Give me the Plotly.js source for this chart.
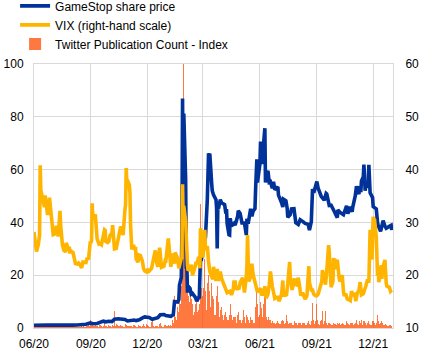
<!DOCTYPE html>
<html>
<head>
<meta charset="utf-8">
<script src="https://cdn.plot.ly/plotly-3.0.1.min.js"></script>
<style>html,body{margin:0;padding:0;background:#fff;}#chart{width:431px;height:356px;}</style>
</head>
<body>
<div id="chart"></div>
<script>
// ---- Series names ----
const seriesNames = ["GameStop share price", "VIX (right-hand scale)", "Twitter Publication Count - Index"];

// ---- GameStop share price (left scale), [date, value] ----
const gmeData = [
["2020-06-01",1.05],["2020-06-08",1.15],["2020-06-15",1.2],["2020-06-22",1.15],["2020-06-29",1.1],
["2020-07-06",1.05],["2020-07-13",1.0],["2020-07-20",1.05],["2020-07-27",1.05],["2020-08-03",1.1],
["2020-08-10",1.15],["2020-08-17",1.3],["2020-08-24",1.4],["2020-08-31",1.9],["2020-09-04",1.6],
["2020-09-11",1.7],["2020-09-16",2.3],["2020-09-21",2.6],["2020-09-25",2.35],["2020-09-30",2.55],
["2020-10-05",2.4],["2020-10-08",3.4],["2020-10-09",3.3],["2020-10-15",3.5],["2020-10-21",3.4],
["2020-10-26",3.2],["2020-10-30",2.65],["2020-11-04",2.9],["2020-11-10",3.0],["2020-11-13",2.8],
["2020-11-18",3.1],["2020-11-24",3.9],["2020-11-27",4.2],["2020-12-01",4.1],["2020-12-04",4.0],
["2020-12-09",3.3],["2020-12-14",3.6],["2020-12-18",3.9],["2020-12-22",5.0],["2020-12-28",5.1],
["2020-12-31",4.7],["2021-01-05",4.4],["2021-01-08",4.4],["2021-01-12",5.0],["2021-01-13",7.85],
["2021-01-14",10.0],["2021-01-19",9.85],["2021-01-21",10.8],["2021-01-22",16.3],["2021-01-25",19.2],
["2021-01-26",37.0],["2021-01-27",86.9],["2021-01-28",48.4],["2021-01-29",81.25],["2021-02-01",56.3],
["2021-02-02",22.5],["2021-02-03",23.1],["2021-02-04",13.4],["2021-02-05",15.9],["2021-02-08",15.0],
["2021-02-10",12.8],["2021-02-12",13.1],["2021-02-17",11.5],["2021-02-19",10.15],["2021-02-22",11.5],
["2021-02-23",11.2],["2021-02-24",22.9],["2021-02-25",27.2],["2021-02-26",25.4],["2021-03-01",30.1],
["2021-03-03",31.0],["2021-03-05",34.4],["2021-03-08",48.6],["2021-03-09",61.7],["2021-03-10",66.2],
["2021-03-11",65.0],["2021-03-12",66.1],["2021-03-15",55.0],["2021-03-16",52.0],["2021-03-18",50.4],
["2021-03-22",48.6],["2021-03-23",45.4],["2021-03-24",30.1],["2021-03-25",45.9],["2021-03-26",45.25],
["2021-03-29",48.6],["2021-03-31",47.4],["2021-04-05",46.7],["2021-04-07",43.4],["2021-04-08",45.0],
["2021-04-09",39.6],["2021-04-12",35.3],["2021-04-13",35.2],["2021-04-14",41.6],["2021-04-16",38.7],
["2021-04-20",39.6],["2021-04-22",39.0],["2021-04-26",42.3],["2021-04-27",44.4],["2021-04-30",43.4],
["2021-05-03",39.8],["2021-05-07",39.8],["2021-05-10",35.2],["2021-05-11",41.4],["2021-05-13",39.5],
["2021-05-17",45.2],["2021-05-19",42.3],["2021-05-21",44.2],["2021-05-24",45.2],["2021-05-25",52.4],
["2021-05-26",60.7],["2021-05-27",63.9],["2021-05-28",55.1],["2021-06-01",62.1],["2021-06-02",70.6],
["2021-06-03",64.6],["2021-06-04",62.1],["2021-06-07",70.0],["2021-06-08",75.0],["2021-06-09",75.7],
["2021-06-10",55.1],["2021-06-11",58.3],["2021-06-14",59.5],["2021-06-16",55.2],["2021-06-18",55.4],
["2021-06-21",52.9],["2021-06-23",55.4],["2021-06-25",52.4],["2021-06-30",53.5],["2021-07-01",50.3],
["2021-07-06",47.4],["2021-07-08",45.8],["2021-07-09",48.8],["2021-07-13",48.2],["2021-07-15",45.4],
["2021-07-16",41.9],["2021-07-20",42.9],["2021-07-22",45.1],["2021-07-26",45.2],["2021-07-28",42.1],
["2021-07-29",39.9],["2021-08-02",39.2],["2021-08-05",41.0],["2021-08-10",40.2],["2021-08-13",39.6],
["2021-08-18",39.3],["2021-08-20",37.1],["2021-08-23",40.2],["2021-08-24",51.3],["2021-08-25",52.6],
["2021-08-27",51.2],["2021-08-31",54.5],["2021-09-01",55.5],["2021-09-03",53.0],["2021-09-08",49.9],
["2021-09-13",48.4],["2021-09-16",51.0],["2021-09-17",50.8],["2021-09-21",46.4],["2021-09-24",46.5],
["2021-09-28",44.7],["2021-09-30",43.9],["2021-10-04",41.8],["2021-10-05",44.7],["2021-10-08",43.9],
["2021-10-14",42.9],["2021-10-19",46.3],["2021-10-21",43.3],["2021-10-25",45.9],["2021-10-28",44.0],
["2021-10-29",45.8],["2021-11-02",50.0],["2021-11-04",53.7],["2021-11-08",50.7],["2021-11-09",53.7],
["2021-11-11",51.5],["2021-11-12",55.6],["2021-11-15",57.3],["2021-11-16",61.9],["2021-11-17",57.6],
["2021-11-18",52.0],["2021-11-19",54.4],["2021-11-23",53.3],["2021-11-24",61.8],["2021-11-26",51.2],
["2021-11-30",49.4],["2021-12-01",46.0],["2021-12-06",45.1],["2021-12-08",40.0],["2021-12-09",38.8],
["2021-12-13",36.6],["2021-12-15",39.0],["2021-12-17",40.7],["2021-12-20",38.6],["2021-12-22",37.8],
["2021-12-27",38.5],["2021-12-30",38.9],["2021-12-31",37.1]
];

// ---- VIX (right-hand scale), [date, value] ----
const vixData = [
["2020-06-01",28.2],["2020-06-03",25.7],["2020-06-05",24.5],["2020-06-08",25.8],["2020-06-10",27.6],
["2020-06-11",40.8],["2020-06-12",36.1],["2020-06-15",34.4],["2020-06-16",33.7],["2020-06-17",33.5],
["2020-06-18",32.9],["2020-06-19",35.1],["2020-06-22",31.8],["2020-06-23",31.4],["2020-06-24",33.8],
["2020-06-25",32.2],["2020-06-26",34.7],["2020-06-29",31.8],["2020-06-30",30.4],["2020-07-01",28.6],
["2020-07-02",27.7],["2020-07-06",27.9],["2020-07-07",29.4],["2020-07-08",28.1],["2020-07-09",29.3],
["2020-07-10",27.3],["2020-07-13",32.2],["2020-07-14",29.5],["2020-07-15",27.8],["2020-07-16",28.0],
["2020-07-17",25.7],["2020-07-20",24.5],["2020-07-21",24.8],["2020-07-22",24.3],["2020-07-23",26.1],
["2020-07-24",25.8],["2020-07-27",24.7],["2020-07-28",25.4],["2020-07-29",24.1],["2020-07-30",24.8],
["2020-07-31",24.5],["2020-08-03",24.3],["2020-08-05",23.0],["2020-08-07",22.2],["2020-08-10",22.1],
["2020-08-12",22.3],["2020-08-14",22.05],["2020-08-17",21.4],["2020-08-19",22.5],["2020-08-21",22.5],
["2020-08-24",22.4],["2020-08-26",23.3],["2020-08-28",22.96],["2020-08-31",26.4],["2020-09-01",26.1],
["2020-09-02",26.6],["2020-09-03",33.6],["2020-09-04",30.75],["2020-09-08",31.5],["2020-09-09",28.8],
["2020-09-10",29.7],["2020-09-11",26.9],["2020-09-14",25.9],["2020-09-16",26.0],["2020-09-18",25.8],
["2020-09-21",27.8],["2020-09-23",28.6],["2020-09-24",28.5],["2020-09-25",26.4],["2020-09-28",26.2],
["2020-09-30",26.4],["2020-10-02",27.6],["2020-10-05",27.96],["2020-10-06",29.5],["2020-10-07",28.1],
["2020-10-08",26.4],["2020-10-09",25.0],["2020-10-12",25.1],["2020-10-14",26.4],["2020-10-16",27.4],
["2020-10-19",29.2],["2020-10-21",28.7],["2020-10-23",27.6],["2020-10-26",32.5],["2020-10-27",33.4],
["2020-10-28",40.3],["2020-10-29",37.6],["2020-10-30",38.0],["2020-11-02",37.1],["2020-11-03",35.6],
["2020-11-04",29.6],["2020-11-05",27.6],["2020-11-06",24.9],["2020-11-09",25.75],["2020-11-10",24.8],
["2020-11-12",25.35],["2020-11-13",23.1],["2020-11-16",22.45],["2020-11-18",23.8],["2020-11-20",23.7],
["2020-11-23",22.7],["2020-11-25",21.25],["2020-11-27",20.8],["2020-11-30",20.6],["2020-12-02",21.2],
["2020-12-04",20.8],["2020-12-08",21.3],["2020-12-10",22.5],["2020-12-11",23.3],["2020-12-14",24.7],
["2020-12-16",22.5],["2020-12-18",21.6],["2020-12-21",25.2],["2020-12-22",24.2],["2020-12-24",21.5],
["2020-12-28",21.7],["2020-12-30",22.8],["2020-12-31",22.75],["2021-01-04",26.97],["2021-01-05",25.3],
["2021-01-06",25.1],["2021-01-07",22.4],["2021-01-08",21.6],["2021-01-11",24.1],["2021-01-12",23.3],
["2021-01-14",22.2],["2021-01-15",24.3],["2021-01-19",23.2],["2021-01-21",21.3],["2021-01-22",21.9],
["2021-01-25",23.2],["2021-01-26",23.0],["2021-01-27",37.2],["2021-01-28",30.2],["2021-01-29",33.1],
["2021-02-01",30.2],["2021-02-02",25.6],["2021-02-04",21.8],["2021-02-05",20.9],["2021-02-08",21.2],
["2021-02-10",21.99],["2021-02-12",19.97],["2021-02-16",21.5],["2021-02-18",22.5],["2021-02-19",22.05],
["2021-02-22",23.45],["2021-02-24",21.3],["2021-02-25",28.9],["2021-02-26",27.95],["2021-03-01",23.35],
["2021-03-03",26.7],["2021-03-04",28.6],["2021-03-05",24.7],["2021-03-08",25.5],["2021-03-10",22.6],
["2021-03-12",20.7],["2021-03-15",19.8],["2021-03-17",19.2],["2021-03-18",21.6],["2021-03-19",20.95],
["2021-03-22",18.9],["2021-03-24",21.2],["2021-03-25",19.8],["2021-03-26",18.9],["2021-03-29",20.7],
["2021-03-31",19.4],["2021-04-05",17.9],["2021-04-07",17.2],["2021-04-09",16.7],["2021-04-12",16.9],
["2021-04-14",16.99],["2021-04-16",16.25],["2021-04-19",17.3],["2021-04-20",18.7],["2021-04-22",18.7],
["2021-04-23",17.3],["2021-04-26",17.6],["2021-04-28",17.3],["2021-04-30",18.6],["2021-05-04",19.5],
["2021-05-07",16.7],["2021-05-10",19.7],["2021-05-11",21.8],["2021-05-12",27.6],["2021-05-13",23.1],
["2021-05-14",18.8],["2021-05-17",19.7],["2021-05-19",22.2],["2021-05-21",20.15],["2021-05-24",18.4],
["2021-05-26",17.4],["2021-05-28",16.8],["2021-06-02",17.5],["2021-06-04",16.4],["2021-06-07",16.4],
["2021-06-09",17.9],["2021-06-11",15.65],["2021-06-14",16.4],["2021-06-16",18.15],["2021-06-18",20.7],
["2021-06-21",17.9],["2021-06-23",16.3],["2021-06-25",15.6],["2021-06-28",15.8],["2021-06-30",15.8],
["2021-07-02",15.1],["2021-07-06",16.4],["2021-07-08",19.0],["2021-07-09",16.2],["2021-07-12",16.2],
["2021-07-14",16.3],["2021-07-16",18.45],["2021-07-19",22.5],["2021-07-20",19.7],["2021-07-22",17.7],
["2021-07-23",17.2],["2021-07-27",19.4],["2021-07-28",18.3],["2021-07-30",18.2],["2021-08-02",19.5],
["2021-08-04",17.95],["2021-08-06",16.15],["2021-08-09",16.7],["2021-08-11",16.0],["2021-08-13",15.45],
["2021-08-16",16.1],["2021-08-17",17.9],["2021-08-18",21.6],["2021-08-19",21.7],["2021-08-20",18.6],
["2021-08-23",17.2],["2021-08-25",17.2],["2021-08-27",16.4],["2021-08-30",16.1],["2021-09-01",16.1],
["2021-09-03",16.4],["2021-09-07",18.0],["2021-09-09",18.8],["2021-09-10",20.95],["2021-09-13",19.4],
["2021-09-15",18.2],["2021-09-17",20.8],["2021-09-20",25.7],["2021-09-21",24.4],["2021-09-22",20.9],
["2021-09-23",18.6],["2021-09-24",17.75],["2021-09-27",18.8],["2021-09-28",23.25],["2021-09-29",22.6],
["2021-09-30",23.1],["2021-10-01",21.15],["2021-10-04",22.96],["2021-10-05",21.3],["2021-10-06",21.0],
["2021-10-07",19.5],["2021-10-08",18.8],["2021-10-12",20.0],["2021-10-14",16.9],["2021-10-15",16.3],
["2021-10-18",16.3],["2021-10-20",15.5],["2021-10-22",15.4],["2021-10-25",15.2],["2021-10-27",16.98],
["2021-10-29",16.3],["2021-11-01",16.4],["2021-11-03",15.1],["2021-11-05",16.5],["2021-11-08",17.2],
["2021-11-10",18.7],["2021-11-12",16.3],["2021-11-15",16.5],["2021-11-17",17.1],["2021-11-19",17.9],
["2021-11-22",19.2],["2021-11-24",18.6],["2021-11-26",28.6],["2021-11-29",22.96],["2021-11-30",27.2],
["2021-12-01",31.1],["2021-12-02",27.95],["2021-12-03",30.7],["2021-12-06",27.2],["2021-12-07",21.9],
["2021-12-08",19.9],["2021-12-09",21.6],["2021-12-10",18.7],["2021-12-13",20.3],["2021-12-14",21.9],
["2021-12-15",19.3],["2021-12-16",20.6],["2021-12-17",21.6],["2021-12-20",22.9],["2021-12-21",19.7],
["2021-12-22",18.6],["2021-12-23",17.96],["2021-12-27",17.7],["2021-12-29",16.95],["2021-12-31",17.2]
];

// ---- Twitter Publication Count - Index (left scale), daily from twitterStart ----
const twitterStart = "2020-06-01";
const twJun20 = [0.4,0.3,0.3,0.5,0.3,0.2,0.2,0.6,0.4,0.3,0.3,0.4,0.2,0.2,0.3,0.5,0.3,0.3,0.4,0.2,0.2,0.4,0.3,0.3,0.5,0.3,0.2,0.2,0.4,0.3];
const twJul20 = [0.3,0.3,0.2,0.2,0.2,0.4,0.3,0.5,0.3,0.3,0.2,0.2,0.3,0.3,0.4,0.3,0.3,0.2,0.2,0.3,0.4,0.3,0.3,0.3,0.2,0.2,0.3,0.4,0.3,0.3,0.3];
const twAug20 = [0.2,0.2,0.3,0.3,0.4,0.3,0.3,0.2,0.2,0.4,0.3,0.5,0.3,0.4,0.2,0.2,0.6,0.5,0.7,0.6,0.8,0.4,0.4,1.0,0.9,0.8,0.7,1.2,0.5,0.6,3.2];
const twSep20 = [2.4,1.8,1.5,1.2,0.6,0.5,0.6,1.4,1.0,0.9,0.8,0.7,0.4,0.5,1.1,1.3,0.9,0.8,0.7,0.5,0.6,2.8,2.1,1.2,0.9,0.8,0.5,0.5,1.0,0.9];
const twOct20 = [0.9,0.8,0.6,0.5,0.9,1.1,0.9,2.6,6.3,2.5,0.8,1.4,1.2,1.0,0.9,0.8,0.6,0.5,1.0,0.9,0.8,0.7,0.9,0.5,0.4,1.2,1.5,1.1,1.0,0.9,0.5];
const twNov20 = [0.6,0.7,0.8,0.9,0.7,0.6,0.4,0.4,1.2,1.0,0.8,0.9,0.7,0.4,0.4,0.8,1.0,0.9,0.8,0.7,0.4,0.4,0.9,2.2,1.6,0.6,0.8,0.5,0.4,1.5];
const twDec20 = [1.2,0.9,0.8,0.7,0.4,0.4,0.9,2.4,3.0,1.2,0.9,0.5,0.4,0.8,0.9,0.8,0.7,0.8,0.5,0.5,1.4,1.8,1.0,0.7,0.3,0.4,0.5,1.2,1.1,1.0,0.9];
const twJan21 = [0.8,0.6,0.7,1.2,1.0,0.9,1.1,1.3,0.8,0.9,3.0,2.0,9,12,8,4,3,4,8,6,7,14,10,9,16,32,60,80,100,45,30];
const twFeb21 = [38,30,24,20,18,12,10,14,12,11,10,9,6,5,6,8,9,14,10,6,5,7,9,33,47,30,15,12];
const twMar21 = [20,15,26,16,14,8,7,17,19,20,18,14,8,6,17,12,10,11,9,5,5,8,12,16,14,10,5,4,7,6,8];
const twApr21 = [6,5,3,3,5,6,5,4,7,3,3,6,5,9,6,5,3,3,4,5,4,3,4,2,2,5,6,4,3,4];
const twMay21 = [3,2,4,3,7,3,4,2,2,5,3,4,3,3,2,5,4,3,3,3,2,2,2,4,8,14,11,9,5,4,5];
const twJun21 = [8,10,9,7.5,4,12,9,12,14,13,8,4,3,5,4,3,2.5,3,2,2,2.5,3,2,2.5,2,1.5,1.5,2,2.5,2];
const twJul21 = [2,2.5,1.5,1.5,2,2.5,3,2,2.5,1.5,1.5,2,2.5,5,3,2.5,1.5,1.5,2,2,2.5,2,1.5,1.2,1.2,2,2.5,2,1.8,2,1.5];
const twAug21 = [1.2,2,2.5,2,1.8,2,1.2,1.2,2,1.8,2.2,2,1.5,1.2,1.2,2,1.8,2.5,2,1.5,1.2,1.2,2.5,6,9.5,5,3,1.5,1.5,2.5,9];
const twSep21 = [4,3,2.5,1.5,1.2,1.5,2.5,3,4,6.5,2,1.5,2.5,2,6.6,3,2,1.2,1.2,2,1.8,2,1.5,1.5,1,1,1.8,2,1.5,1.5];
const twOct21 = [1.5,1,1,1.8,2,1.5,1.5,1.8,1,1,1.5,1.8,2,1.5,1.8,1,1,2,2.5,2,1.5,1.5,1,1,2,1.8,2,1.5,1.8,1,1];
const twNov21 = [1.5,2,2.5,3,5,1.5,1.2,2,2.5,2,2,3,1.5,1.2,2.5,3.5,2.5,2,2,1.2,1.2,2,2.5,4,1.5,2,1.2,1.2,2,2.5];
const twDec21 = [2.5,2,2,1.5,1.2,2,2.5,5,5,2.5,1.5,1.2,2,2.5,2,2,1.8,1.2,1,1.5,1.5,1.2,1,0.8,0.6,0.8,1.2,1.2,1,1,0.8];

const xTickVals = ["2020-06-01","2020-09-01","2020-12-01","2021-03-01","2021-06-01","2021-09-01","2021-12-01"];
const xRange = ["2020-06-01","2022-01-02"];

// ---- Build traces ----
const twValues = [].concat(twJun20,twJul20,twAug20,twSep20,twOct20,twNov20,twDec20,
  twJan21,twFeb21,twMar21,twApr21,twMay21,twJun21,twJul21,twAug21,twSep21,twOct21,twNov21,twDec21);
const t0 = Date.parse(twitterStart + "T00:00:00Z");
const twDates = twValues.map((v,i) => new Date(t0 + i*86400000).toISOString().slice(0,10));

const traces = [
  {
    type: "scatter", mode: "lines", name: seriesNames[0],
    x: gmeData.map(d => d[0]), y: gmeData.map(d => d[1]),
    line: {color: "#003299", width: 3.6}, yaxis: "y"
  },
  {
    type: "scatter", mode: "lines", name: seriesNames[1],
    x: vixData.map(d => d[0]), y: vixData.map(d => d[1]),
    line: {color: "#FFB400", width: 3.6}, yaxis: "y2"
  },
  {
    type: "bar", name: seriesNames[2],
    x: twDates, y: twValues,
    marker: {color: "rgba(255,75,0,0.75)", line: {width: 0}}, yaxis: "y"
  }
];

const font = {family: "Liberation Sans, Arial, sans-serif", size: 12, color: "#000000"};
const grid = "#d9d9d9";

const layout = {
  width: 431, height: 356,
  margin: {l: 34, r: 38, t: 64, b: 28, pad: 0, autoexpand: false},
  paper_bgcolor: "#ffffff", plot_bgcolor: "#ffffff",
  font: font,
  showlegend: true,
  bargap: 0,
  legend: {
    xref: "container", yref: "paper",
    x: 0.035, y: 1.275, xanchor: "left", yanchor: "top",
    font: font, bgcolor: "rgba(0,0,0,0)", traceorder: "normal",
    itemwidth: 30, tracegroupgap: 0
  },
  xaxis: {
    type: "date", range: xRange, tickvals: xTickVals, tickformat: "%m/%y",
    tickangle: 0,
    showgrid: true, gridcolor: grid, gridwidth: 1,
    showline: true, linecolor: grid, linewidth: 1, mirror: true,
    ticks: "outside", ticklen: 5, tickcolor: "rgba(0,0,0,0)",
    tickfont: font, zeroline: false, automargin: false, fixedrange: true
  },
  yaxis: {
    range: [0, 100], tickvals: [0,20,40,60,80,100],
    showgrid: true, gridcolor: grid, gridwidth: 1,
    showline: true, linecolor: grid, linewidth: 1, mirror: true,
    ticks: "outside", ticklen: 7, tickcolor: "rgba(0,0,0,0)",
    tickfont: font, zeroline: false, automargin: false, fixedrange: true
  },
  yaxis2: {
    overlaying: "y", side: "right",
    range: [10, 60], tickvals: [10,20,30,40,50,60],
    showgrid: false, showline: false,
    ticks: "outside", ticklen: 9, tickcolor: "rgba(0,0,0,0)",
    tickfont: font, zeroline: false, automargin: false, fixedrange: true
  }
};

Plotly.newPlot("chart", traces, layout, {displayModeBar: false, staticPlot: true});
</script>
</body>
</html>
